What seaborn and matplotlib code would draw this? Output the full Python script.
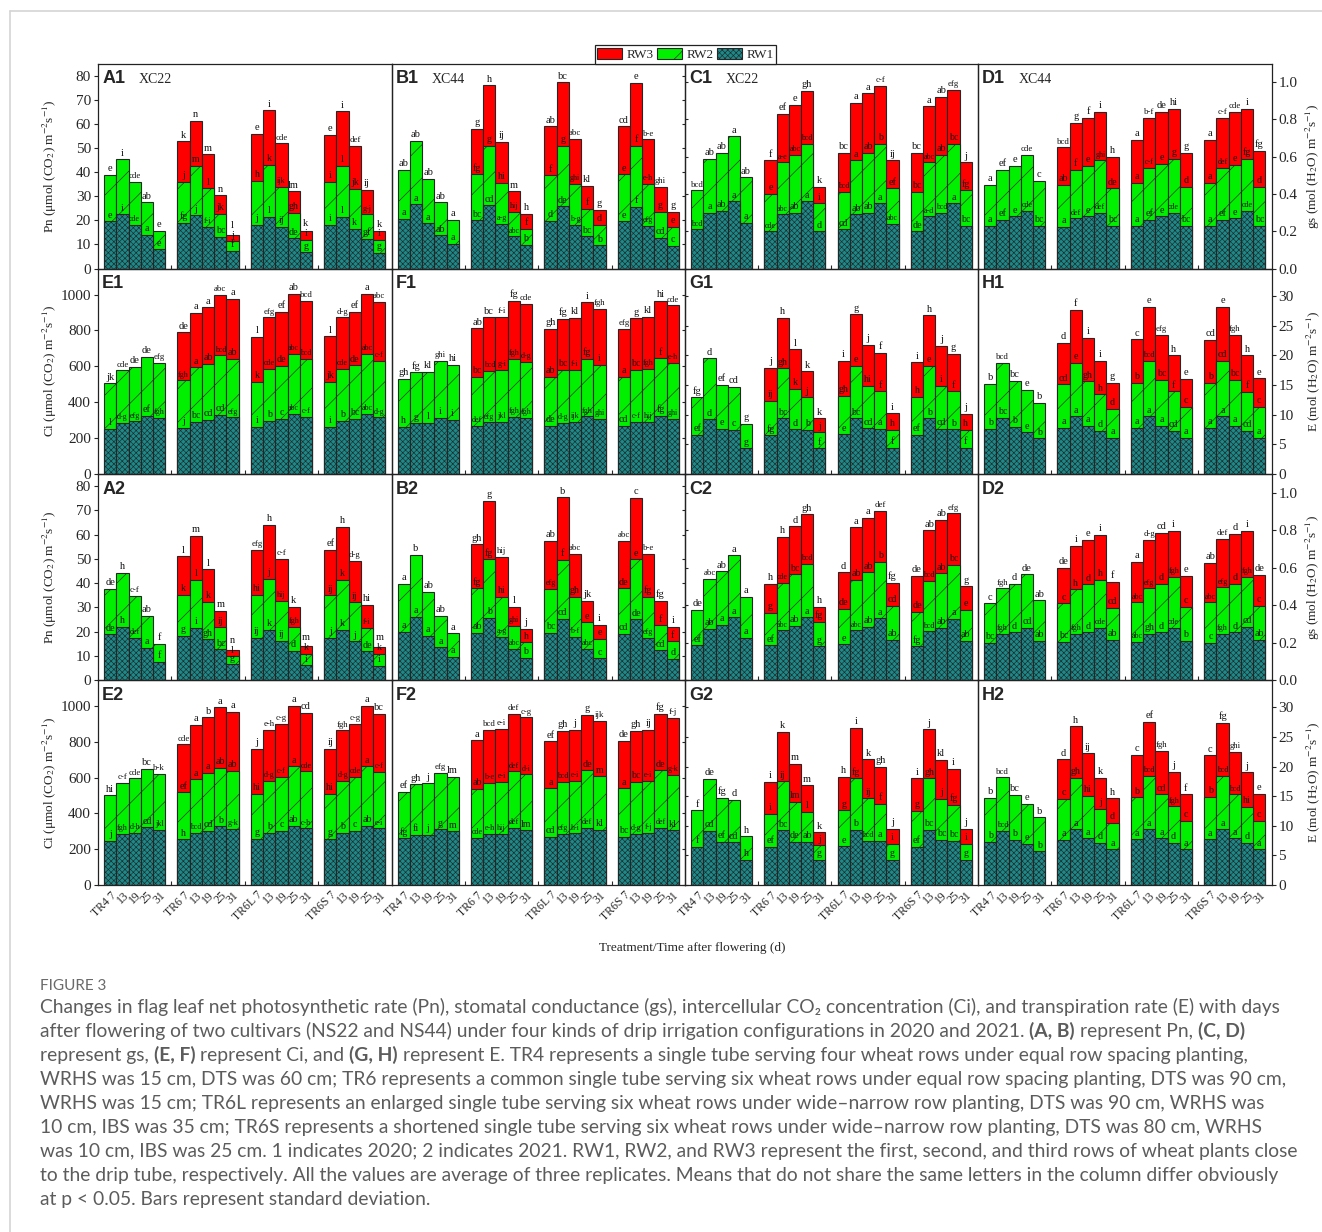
import numpy as np
import pandas as pd
import matplotlib
matplotlib.use('Agg')
import matplotlib.pyplot as plt
from matplotlib.patches import Patch
from matplotlib.lines import Line2D
from matplotlib.ticker import FixedLocator, FormatStrFormatter
import seaborn as sns

nan = np.nan

treatments = ['TR4', 'TR6', 'TR6L', 'TR6S']
days = [7, 13, 19, 25, 31]
cultivar_tag = {'A1': 'XC22', 'B1': 'XC44', 'C1': 'XC22', 'D1': 'XC44'}

# heights: top of RW1, top of RW1+RW2, top of RW1+RW2+RW3
# (20 bars per panel = 4 treatments x 5 days; TR4 has no third row)
# letters: above the bar, above the RW2 part, above the RW1 part ('-' = none)

# ---- A1  Pn 2020 XC22
a1_rw1 = [19.5, 22.5, 18.0, 14.0, 8.0, 18.9, 22.0, 17.3, 13.0, 7.4, 18.0, 21.3, 17.3, 12.5, 6.7, 18.0, 21.3, 16.5, 12.2, 6.5]
a1_rw2 = [38.8, 45.3, 35.8, 27.5, 15.5, 36.0, 42.7, 33.3, 22.8, 11.3, 36.3, 43.0, 34.0, 23.0, 12.0, 36.0, 42.5, 33.0, 22.5, 11.8]
a1_rw3 = [nan] * 5 + [52.7, 61.3, 47.4, 30.3, 13.9, 55.8, 65.6, 51.9, 32.0, 15.7, 55.4, 65.1, 50.9, 32.5, 15.6]
a1_top = "e i cde ab e k n m n l e i cde lm k e i def ij k".split()
a1_mid = "- - - - - j m l jk j h k ijk gh i i l jk g-j i".split()
a1_low = "e i cde a e fg j f-i bc f j l ij de g i l k gf g".split()

# ---- B1  Pn 2020 XC44
b1_rw1 = [20.5, 26.6, 18.7, 13.8, 10.3, 20.0, 26.2, 18.4, 13.3, 9.8, 19.7, 25.8, 18.2, 13.3, 9.6, 19.6, 25.6, 17.8, 12.8, 9.4]
b1_rw2 = [40.8, 52.9, 37.3, 27.5, 20.1, 39.0, 51.0, 35.4, 23.4, 16.5, 38.6, 50.8, 35.2, 24.8, 18.0, 39.0, 51.0, 35.2, 23.6, 17.2]
b1_rw3 = [nan] * 5 + [57.8, 75.9, 52.5, 32.0, 22.7, 59.0, 77.2, 53.8, 34.2, 24.2, 59.0, 77.0, 53.5, 34.0, 23.5]
b1_top = "ab ab ab ab a g h ij m h ab bc abc kl g cd e b-e ghi g".split()
b1_mid = "- - - - - fg g hi hij f f g ghi f d e f e-h g e".split()
b1_low = "a a a ab a bc cd a-g abc b d de b-g bc b e f efg cd c".split()

# ---- C1  gs 2020 XC22
c1_rw1 = [0.21, 0.30, 0.31, 0.36, 0.245, 0.20, 0.29, 0.30, 0.36, 0.20, 0.21, 0.29, 0.30, 0.35, 0.24, 0.20, 0.28, 0.30, 0.35, 0.23]
c1_rw2 = [0.42, 0.59, 0.62, 0.71, 0.49, 0.40, 0.57, 0.61, 0.67, 0.35, 0.41, 0.58, 0.62, 0.67, 0.43, 0.41, 0.57, 0.61, 0.67, 0.42]
c1_rw3 = [nan] * 5 + [0.58, 0.83, 0.88, 0.955, 0.44, 0.62, 0.89, 0.94, 0.98, 0.58, 0.62, 0.87, 0.92, 0.96, 0.57]
c1_top = "bcd ab ab a ab f ef e gh k bc a a c-f ij bc a ab efg j".split()
c1_mid = "- - - - - e a-e abc bcd i bcd a ab b ef bc abc ab bc fg".split()
c1_low = "bcd a ab a a cde abc ab a d cd ab ab a abc de a-d bcd a bc".split()

# ---- D1  gs 2020 XC44
d1_rw1 = [0.23, 0.26, 0.28, 0.31, 0.23, 0.225, 0.27, 0.28, 0.30, 0.23, 0.23, 0.26, 0.28, 0.30, 0.23, 0.23, 0.26, 0.27, 0.31, 0.23]
d1_rw2 = [0.45, 0.53, 0.55, 0.61, 0.47, 0.45, 0.53, 0.55, 0.58, 0.43, 0.46, 0.54, 0.56, 0.59, 0.44, 0.46, 0.54, 0.555, 0.59, 0.44]
d1_rw3 = [nan] * 5 + [0.65, 0.78, 0.81, 0.84, 0.60, 0.69, 0.81, 0.84, 0.855, 0.62, 0.69, 0.81, 0.84, 0.855, 0.63]
d1_top = "a ef e cde c bcd g f i h a b-f de hi g a c-f cde i fg".split()
d1_mid = "- - - - - ab f e ghi de a c-f e g d a def e fg d".split()
d1_low = "a ef e cde bc a def e def bc a ef e cde bc a ef e cde bc".split()

# ---- E1  Ci 2020 XC22
e1_rw1 = [252, 285, 293, 325, 312, 258, 290, 302, 330, 315, 262, 297, 306, 335, 320, 262, 295, 306, 335, 315]
e1_rw2 = [505, 578, 598, 652, 620, 522, 595, 615, 662, 642, 515, 585, 603, 668, 640, 515, 585, 605, 668, 632]
e1_rw3 = [nan] * 5 + [790, 898, 928, 998, 975, 765, 873, 903, 1005, 965, 767, 873, 905, 1005, 960]
e1_top = "jk cde de de efg de a a abc a l efg ef ab bcd l d-g ef a abc".split()
e1_mid = "- - - - - fgh a ab bcd ab k cde de abc bcd jk cde de abc c-f".split()
e1_low = "l d-g efg ef fgh j bc cd cd efg i b c abc c-f i b bc abc d-g".split()

# ---- F1  Ci 2020 XC44
f1_rw1 = [262, 283, 285, 312, 303, 268, 287, 290, 320, 312, 270, 286, 290, 322, 308, 268, 290, 290, 325, 308]
f1_rw2 = [530, 567, 570, 632, 607, 540, 576, 581, 640, 625, 543, 580, 582, 643, 608, 543, 582, 587, 645, 620]
f1_rw3 = [nan] * 5 + [812, 872, 877, 963, 948, 807, 866, 870, 957, 922, 810, 868, 875, 963, 940]
f1_top = "gh fg kl ghi hi ab bc f-i fg cde gh fg kl i fgh efg g kl hi cde".split()
f1_mid = "- - - - - bc bcd g-i fgh d-g ab bc f-i fg i a bc fgh f e-h".split()
f1_low = "h g l i i def efg jkl fgh fgh de d-g ijk fgh ghi cd c-f hij fg ghi".split()

# ---- G1  E 2020 XC22
g1_rw1 = [6.6, 9.2, 7.6, 7.4, 4.3, 6.5, 9.4, 7.5, 7.4, 4.3, 6.7, 9.4, 7.7, 7.6, 4.4, 6.6, 9.4, 7.6, 7.5, 4.4]
g1_rw2 = [12.9, 19.5, 15.0, 14.7, 8.4, 12.3, 17.8, 14.3, 12.9, 7.0, 13.2, 18.2, 14.9, 13.9, 7.4, 13.0, 18.2, 14.8, 13.9, 7.4]
g1_rw3 = [nan] * 5 + [17.9, 26.3, 21.0, 17.3, 9.4, 19.0, 26.9, 21.8, 20.4, 10.2, 18.8, 26.7, 21.6, 20.2, 10.1]
g1_top = "fg d ef cd g j h l k k i g j f i i h j g j".split()
g1_mid = "- - - - - ij gh k j j gh e hi f h h e i f h".split()
g1_low = "ef d e c g fg bc d b f e bc cd a f ef b cd b f".split()

# ---- H1  E 2020 XC44
h1_rw1 = [7.6, 9.5, 7.9, 7.0, 6.0, 7.8, 9.7, 8.1, 7.3, 6.1, 7.8, 9.7, 8.1, 7.3, 6.1, 7.8, 9.7, 8.1, 7.3, 6.1]
h1_rw2 = [15.2, 18.7, 15.7, 14.2, 12.0, 15.1, 18.7, 15.6, 13.4, 11.0, 15.4, 19.0, 15.9, 13.9, 11.3, 15.4, 19.0, 15.9, 13.8, 11.3]
h1_rw3 = [nan] * 5 + [22.1, 27.6, 22.9, 19.0, 15.3, 22.7, 28.2, 23.4, 20.0, 16.0, 22.6, 28.1, 23.4, 20.0, 16.1]
h1_top = "b bcd bc e b d f i i g c e efg h e cd e fgh h e".split()
h1_mid = "- - - - - cd e gh h d b bcd bc f c b cd bc f c".split()
h1_low = "b bc b e b a a a d a a a a cd a a a a cd a".split()

# ---- A2  Pn 2021 XC22
a2_rw1 = [18.8, 22.0, 17.4, 13.3, 7.5, 18.2, 21.5, 16.8, 12.7, 6.5, 17.5, 20.8, 16.2, 12.0, 6.0, 17.4, 20.8, 16.0, 11.8, 5.8]
a2_rw2 = [37.5, 44.2, 34.8, 26.4, 14.8, 35.2, 41.3, 32.2, 21.8, 9.8, 35.2, 41.8, 32.6, 22.0, 10.9, 34.9, 41.2, 32.0, 21.5, 10.8]
a2_rw3 = [nan] * 5 + [51.0, 59.4, 45.6, 28.6, 12.3, 53.8, 64.0, 50.0, 30.3, 14.1, 53.7, 63.3, 49.3, 30.9, 13.8]
a2_top = "de h c-f ab f l m l m n efg h c-f k m ef h d-g hi m".split()
a2_mid = "- - - - - k l k ij l hi j hij fgh k ij k ij f-i k".split()
a2_low = "de h def a f g i gh bc g ij k ij d i j k j de i".split()

# ---- B2  Pn 2021 XC44
b2_rw1 = [20.0, 26.0, 18.3, 13.5, 9.6, 19.5, 25.7, 17.8, 12.8, 9.1, 19.5, 25.3, 17.8, 12.8, 9.0, 19.1, 25.1, 17.4, 12.2, 8.7]
b2_rw2 = [39.7, 51.7, 36.4, 26.5, 19.2, 37.8, 49.8, 34.2, 22.3, 15.6, 37.7, 49.6, 34.3, 23.8, 16.9, 37.8, 49.8, 34.3, 22.5, 16.0]
b2_rw3 = [nan] * 5 + [56.0, 74.0, 50.8, 30.3, 21.1, 57.5, 75.4, 52.1, 32.6, 22.8, 57.4, 75.1, 52.0, 32.6, 21.9]
b2_top = "a b ab ab a gh g hij l j ab b abc jk i abc c b-e fg i".split()
b2_mid = "- - - - - fg fg hi ghi h efg f gh e e de e fg f f".split()
b2_low = "a a a a a ab b a-g abc b bc cd b-f abc c cd de efg cd d".split()

# ---- C2  gs 2021 XC22
c2_rw1 = [0.185, 0.275, 0.295, 0.335, 0.225, 0.185, 0.265, 0.29, 0.335, 0.18, 0.19, 0.265, 0.285, 0.33, 0.215, 0.18, 0.26, 0.28, 0.325, 0.21]
c2_rw2 = [0.375, 0.54, 0.58, 0.665, 0.445, 0.36, 0.52, 0.565, 0.62, 0.31, 0.38, 0.535, 0.575, 0.63, 0.395, 0.365, 0.53, 0.57, 0.615, 0.375]
c2_rw3 = [nan] * 5 + [0.515, 0.765, 0.82, 0.885, 0.39, 0.575, 0.815, 0.865, 0.905, 0.52, 0.555, 0.80, 0.855, 0.89, 0.50]
c2_top = "de abc ab a a h h d gh h d a a def fg de ab ab efg g".split()
c2_mid = "- - - - - g cde bc bcd fg de ab ab b cd de bcd ab bc e".split()
c2_low = "ef ab a a a ef abc ab a g e abc ab a ab fg bcd ab a ab".split()

# ---- D2  gs 2021 XC44
d2_rw1 = [0.20, 0.245, 0.255, 0.28, 0.21, 0.205, 0.245, 0.255, 0.28, 0.215, 0.205, 0.245, 0.255, 0.28, 0.21, 0.20, 0.245, 0.255, 0.285, 0.215]
d2_rw2 = [0.41, 0.49, 0.515, 0.565, 0.425, 0.41, 0.485, 0.51, 0.535, 0.385, 0.415, 0.49, 0.515, 0.55, 0.39, 0.415, 0.495, 0.515, 0.55, 0.395]
d2_rw3 = [nan] * 5 + [0.60, 0.715, 0.75, 0.775, 0.525, 0.63, 0.75, 0.785, 0.795, 0.555, 0.625, 0.755, 0.78, 0.795, 0.56]
d2_top = "c fgh d de ab de i e i f a d-g cd i e ab def d i de".split()
d2_mid = "- - - - - c h d h cd abc efg d fgh c abc efg d fgh c".split()
d2_low = "bc fgh d cd ab bc fgh d cde ab abc gh d cde b c fgh d cd ab".split()

# ---- E2  Ci 2021 XC22
e2_rw1 = [248, 285, 292, 322, 308, 255, 290, 302, 328, 312, 258, 292, 303, 332, 317, 258, 293, 303, 332, 316]
e2_rw2 = [500, 572, 595, 650, 620, 518, 590, 625, 655, 638, 510, 580, 603, 663, 635, 510, 580, 605, 663, 633]
e2_rw3 = [nan] * 5 + [785, 893, 937, 992, 968, 760, 865, 900, 1000, 960, 762, 863, 900, 1000, 957]
e2_top = "hi c-f cde bc b-k cde a b a a j e-h c-g a cd ij fgh c-g a bc".split()
e2_mid = "- - - - - ef a a ab ab hi d-g c-f a cde hi d-g cde a c-f".split()
e2_low = "j fgh d-h cd jkl h bcd cd b g-k g b c ab c-h g b c ab e-i".split()

# ---- F2  Ci 2021 XC44
f2_rw1 = [260, 280, 282, 310, 300, 265, 285, 287, 318, 305, 268, 285, 288, 320, 307, 268, 287, 290, 320, 305]
f2_rw2 = [522, 563, 567, 627, 605, 537, 572, 578, 635, 618, 540, 578, 582, 640, 607, 540, 578, 582, 640, 617]
f2_rw3 = [nan] * 5 + [808, 867, 872, 955, 937, 803, 860, 865, 952, 918, 805, 862, 867, 957, 932]
f2_top = "ef gh j efg lm a bcd e-i def c-g ef gh j g ijk de gh ij fg f-j".split()
f2_mid = "- - - - - ab b-e e-i def d-i a bcd e-i de m a bc e-i de g-k".split()
f2_low = "fg fi j g m cde e-h hij def lm cd efg h-i def kl bc d-g f-j def kl".split()

# ---- G2  E 2021 XC22
g2_rw1 = [6.4, 9.1, 7.3, 7.2, 4.2, 6.4, 9.2, 7.3, 7.3, 4.2, 6.5, 9.3, 7.5, 7.4, 4.2, 6.4, 9.3, 7.6, 7.4, 4.2]
g2_rw2 = [12.6, 17.9, 14.7, 14.4, 8.2, 12.0, 17.5, 14.0, 12.4, 6.7, 12.6, 18.0, 14.6, 13.7, 7.0, 12.5, 18.0, 14.5, 13.5, 7.0]
g2_rw3 = [nan] * 5 + [17.4, 25.8, 20.4, 16.8, 8.9, 18.3, 26.5, 21.2, 19.9, 9.5, 18.0, 26.3, 21.1, 19.6, 9.5]
g2_top = "f de fg d h i k m m k h i k gh j i j kl i j".split()
g2_mid = "- - - - - i ij lm l j g fg ij f i g gh j fg i".split()
g2_low = "f cd ef cd h ef bc de ab g e b bcd a g ef bc bc bc g".split()

# ---- H2  E 2021 XC44
h2_rw1 = [7.3, 9.1, 7.6, 6.9, 5.7, 7.6, 9.4, 7.9, 7.1, 6.0, 7.7, 9.4, 7.9, 7.1, 6.0, 7.7, 9.4, 7.9, 7.1, 6.0]
h2_rw2 = [14.7, 18.2, 15.2, 13.7, 11.4, 14.5, 18.1, 15.0, 12.9, 10.5, 14.8, 18.4, 15.3, 13.3, 10.8, 14.9, 18.4, 15.3, 13.2, 10.8]
h2_rw3 = [nan] * 5 + [21.2, 26.8, 22.2, 18.1, 14.6, 22.0, 27.5, 22.6, 19.1, 15.3, 21.9, 27.4, 22.5, 19.0, 15.4]
h2_top = "b bcd bc e b d h ij k h c ef fgh j f c fg ghi j e".split()
h2_mid = "- - - - - c gh hi j d b bcd cd fgh c b bcd bcd hi c".split()
h2_low = "b bcd b e b a a a d a a a a d a a a a d a".split()

panels = {
    'A1': (a1_rw1, a1_rw2, a1_rw3, a1_top, a1_mid, a1_low),
    'B1': (b1_rw1, b1_rw2, b1_rw3, b1_top, b1_mid, b1_low),
    'C1': (c1_rw1, c1_rw2, c1_rw3, c1_top, c1_mid, c1_low),
    'D1': (d1_rw1, d1_rw2, d1_rw3, d1_top, d1_mid, d1_low),
    'E1': (e1_rw1, e1_rw2, e1_rw3, e1_top, e1_mid, e1_low),
    'F1': (f1_rw1, f1_rw2, f1_rw3, f1_top, f1_mid, f1_low),
    'G1': (g1_rw1, g1_rw2, g1_rw3, g1_top, g1_mid, g1_low),
    'H1': (h1_rw1, h1_rw2, h1_rw3, h1_top, h1_mid, h1_low),
    'A2': (a2_rw1, a2_rw2, a2_rw3, a2_top, a2_mid, a2_low),
    'B2': (b2_rw1, b2_rw2, b2_rw3, b2_top, b2_mid, b2_low),
    'C2': (c2_rw1, c2_rw2, c2_rw3, c2_top, c2_mid, c2_low),
    'D2': (d2_rw1, d2_rw2, d2_rw3, d2_top, d2_mid, d2_low),
    'E2': (e2_rw1, e2_rw2, e2_rw3, e2_top, e2_mid, e2_low),
    'F2': (f2_rw1, f2_rw2, f2_rw3, f2_top, f2_mid, f2_low),
    'G2': (g2_rw1, g2_rw2, g2_rw3, g2_top, g2_mid, g2_low),
    'H2': (h2_rw1, h2_rw2, h2_rw3, h2_top, h2_mid, h2_low),
}

caption_title = "FIGURE 3"
caption_lines = [
    "Changes in flag leaf net photosynthetic rate (Pn), stomatal conductance (gs), intercellular CO\u2082 concentration (Ci), and transpiration rate (E) with days",
    "after flowering of two cultivars (NS22 and NS44) under four kinds of drip irrigation configurations in 2020 and 2021. **(A, B)** represent Pn, **(C, D)**",
    "represent gs, **(E, F)** represent Ci, and **(G, H)** represent E. TR4 represents a single tube serving four wheat rows under equal row spacing planting,",
    "WRHS was 15 cm, DTS was 60 cm; TR6 represents a common single tube serving six wheat rows under equal row spacing planting, DTS was 90 cm,",
    "WRHS was 15 cm; TR6L represents an enlarged single tube serving six wheat rows under wide\u2013narrow row planting, DTS was 90 cm, WRHS was",
    "10 cm, IBS was 35 cm; TR6S represents a shortened single tube serving six wheat rows under wide\u2013narrow row planting, DTS was 80 cm, WRHS",
    "was 10 cm, IBS was 25 cm. 1 indicates 2020; 2 indicates 2021. RW1, RW2, and RW3 represent the first, second, and third rows of wheat plants close",
    "to the drip tube, respectively. All the values are average of three replicates. Means that do not share the same letters in the column differ obviously",
    "at p < 0.05. Bars represent standard deviation.",
]

# ---------------------------------------------------------------- style
sns.set_style('ticks')
plt.rcParams['font.family'] = ['Liberation Serif', 'DejaVu Serif']
plt.rcParams['mathtext.fontset'] = 'stix'
plt.rcParams['hatch.linewidth'] = 0.45

RED, GREEN, TEAL, EDGE = '#ff0000', '#00f000', '#1a8a8a', '#262626'
CAP_FONT = ['Lato', 'DejaVu Sans']
CAP_COLOR = '#5c5c5c'

W, H = 1322, 1232
fig = plt.figure(figsize=(W / 100, H / 100), dpi=100)

col_x = [98, 391.5, 685, 978, 1271.5]
row_y = [63.5, 268.5, 474, 680, 885]
grid = [['A1', 'B1', 'C1', 'D1'], ['E1', 'F1', 'G1', 'H1'],
        ['A2', 'B2', 'C2', 'D2'], ['E2', 'F2', 'G2', 'H2']]
quantity = {'A': 'Pn', 'B': 'Pn', 'C': 'gs', 'D': 'gs', 'E': 'Ci', 'F': 'Ci', 'G': 'E', 'H': 'E'}
ymax = {'Pn': 85, 'gs': 1.1, 'Ci': 1145, 'E': 34.6}
yticks = {'Pn': np.arange(0, 81, 10), 'gs': np.arange(0, 1.01, 0.2),
          'Ci': np.arange(0, 1001, 200), 'E': np.arange(0, 31, 5)}
yfmt = {'Pn': '%d', 'gs': '%.1f', 'Ci': '%d', 'E': '%d'}
ylabels = {'Pn': 'Pn (\u03bcmol (CO$_2$) m$^{-2}$s$^{-1}$)',
           'Ci': 'Ci (\u03bcmol (CO$_2$) m$^{-2}$s$^{-1}$)',
           'gs': 'gs (mol (H$_2$O) m$^{-2}$s$^{-1}$)',
           'E': 'E (mol (H$_2$O) m$^{-2}$s$^{-1}$)'}

pos = [g * 6 + i for g in range(len(treatments)) for i in range(len(days))]
xlabels = []
for t in treatments:
    for i, d in enumerate(days):
        xlabels.append(f'{t} {d}' if i == 0 else str(d))


def put_letter(ax, x, y, s, big, lift=0.0):
    if s == '-' or np.isnan(y):
        return
    if big:
        fs = 7.5 if len(s) <= 2 else 6.3
    else:
        fs = 7.2 if len(s) <= 2 else 5.8
    ax.annotate(s, xy=(x, y), xytext=(0, 1.2 + lift), textcoords='offset points',
                ha='center', va='bottom', fontsize=fs, color='#111111', zorder=5)


for r, row in enumerate(grid):
    for c, name in enumerate(row):
        x0, x1 = col_x[c], col_x[c + 1]
        y0, y1 = row_y[r], row_y[r + 1]
        ax = fig.add_axes([x0 / W, 1 - y1 / H, (x1 - x0) / W, (y1 - y0) / H])
        ax.set_facecolor('none')
        q = quantity[name[0]]
        pt_per_unit = (y1 - y0) * 0.72 / ymax[q]
        rw1, rw2, rw3, l_top, l_mid, l_low = panels[name]
        df = pd.DataFrame({'pos': pos, 'rw1': rw1, 'rw2': rw2, 'rw3': rw3})

        for col, color, hatch in [('rw3', RED, None), ('rw2', GREEN, '/'), ('rw1', TEAL, 'xxxxxx')]:
            d = df.dropna(subset=[col])
            sns.barplot(data=d, x='pos', y=col, native_scale=True, width=1,
                        color=color, saturation=1, errorbar=None, hatch=hatch,
                        edgecolor=EDGE, linewidth=0.8, ax=ax)

        for i, p in enumerate(pos):
            has3 = not np.isnan(rw3[i])
            total = rw3[i] if has3 else rw2[i]
            lift = 0.0
            if has3:
                gap = (rw3[i] - rw2[i]) * pt_per_unit
                lift = max(0.0, 7.0 - gap)
            put_letter(ax, p, total, l_top[i], True, lift)
            put_letter(ax, p, rw2[i], l_mid[i], False)
            put_letter(ax, p, rw1[i], l_low[i], False)

        ax.set_xlim(-1, 23)
        ax.set_ylim(0, ymax[q])
        ax.set_xlabel('')
        ax.set_ylabel('')
        for sp in ax.spines.values():
            sp.set_visible(True)
            sp.set_linewidth(0.9)
            sp.set_color('#222222')

        # x: one label per bar on the bottom row, small separators between groups
        ax.xaxis.set_major_locator(FixedLocator(pos))
        ax.xaxis.set_minor_locator(FixedLocator([5, 11, 17]))
        ax.tick_params(axis='x', which='major', length=0, pad=3)
        ax.tick_params(axis='x', which='minor', direction='in', length=3, width=0.8)
        if r == len(grid) - 1:
            ax.set_xticklabels(xlabels, rotation=45, ha='right',
                               rotation_mode='anchor', fontsize=8.5)
        else:
            ax.set_xticklabels([])

        ax.yaxis.set_major_locator(FixedLocator(yticks[q]))
        ax.yaxis.set_major_formatter(FormatStrFormatter(yfmt[q]))
        if c == 0:
            ax.tick_params(axis='y', left=True, right=False, direction='out', length=3,
                           width=0.8, labelleft=True, labelright=False, labelsize=11, pad=2)
        elif c == 1:
            ax.tick_params(axis='y', left=False, right=True, direction='in', length=2,
                           width=0.8, labelleft=False, labelright=False)
        elif c == 2:
            ax.tick_params(axis='y', left=True, right=False, direction='in', length=2,
                           width=0.8, labelleft=False, labelright=False)
        else:
            ax.tick_params(axis='y', left=False, right=True, direction='out', length=3,
                           width=0.8, labelleft=False, labelright=True, labelsize=11, pad=2)

        ax.annotate(name, xy=(0, 1), xycoords='axes fraction', xytext=(3, -5),
                    textcoords='offset points', ha='left', va='top', fontsize=13,
                    fontweight='bold', family=['Liberation Sans', 'DejaVu Sans'])
        if name in cultivar_tag:
            ax.annotate(cultivar_tag[name], xy=(0, 1), xycoords='axes fraction',
                        xytext=(29, -7), textcoords='offset points', ha='left',
                        va='top', fontsize=10)

# axis titles
for r, row in enumerate(grid):
    yc = 1 - (row_y[r] + row_y[r + 1]) / 2 / H
    fig.text(50 / W, yc, ylabels[quantity[row[0][0]]], rotation=90,
             ha='center', va='center', fontsize=9.5)
    fig.text(1313 / W, yc, ylabels[quantity[row[3][0]]], rotation=90,
             ha='center', va='center', fontsize=9.5)
fig.text(692 / W, 1 - 948 / H, 'Treatment/Time after flowering (d)',
         ha='center', va='center', fontsize=9.5)

handles = [Patch(facecolor=RED, edgecolor=EDGE, linewidth=0.8),
           Patch(facecolor=GREEN, edgecolor=EDGE, linewidth=0.8, hatch='/'),
           Patch(facecolor=TEAL, edgecolor=EDGE, linewidth=0.8, hatch='xxxxxx')]
leg = fig.legend(handles, ['RW3', 'RW2', 'RW1'], loc='lower center',
                 bbox_to_anchor=(685.5 / W, 1 - 63.5 / H), ncol=3, frameon=True,
                 fancybox=False, edgecolor='#222222', framealpha=1, fontsize=9.5,
                 handlelength=1.9, handleheight=0.9, handletextpad=0.3,
                 columnspacing=0.3, borderpad=0.2, borderaxespad=0)
leg.get_frame().set_linewidth(0.9)

# page border (top and left)
fig.add_artist(Line2D([9.5 / W, 1], [1 - 11 / H, 1 - 11 / H], transform=fig.transFigure,
                      color='#d4d4d4', linewidth=1.2))
fig.add_artist(Line2D([9.5 / W, 9.5 / W], [1 - 11 / H, 0], transform=fig.transFigure,
                      color='#d4d4d4', linewidth=1.2))

# caption
renderer = fig.canvas.get_renderer()
cap_size = 13.9
fig.text(40 / W, 1 - 990 / H, caption_title, fontsize=11, color='#6a6a6a',
         family=CAP_FONT, ha='left', va='baseline')
probe_a = fig.text(0, 0, 'a a', fontsize=cap_size, family=CAP_FONT)
probe_b = fig.text(0, 0, 'aa', fontsize=cap_size, family=CAP_FONT)
space_w = probe_a.get_window_extent(renderer).width - probe_b.get_window_extent(renderer).width
probe_a.remove()
probe_b.remove()

for k, line in enumerate(caption_lines):
    yb = 1013 + 24 * k
    x = 40.0
    for j, seg in enumerate(line.split('**')):
        if seg == '':
            continue
        bold = j % 2 == 1
        if seg.startswith(' '):
            x += space_w
        txt = seg.strip()
        t = fig.text(x / W, 1 - yb / H, txt, fontsize=cap_size, color=CAP_COLOR,
                     fontweight='bold' if bold else 'normal', family=CAP_FONT,
                     ha='left', va='baseline')
        x += t.get_window_extent(renderer).width
        if seg.endswith(' '):
            x += space_w

fig.savefig('out.png', dpi=100)
